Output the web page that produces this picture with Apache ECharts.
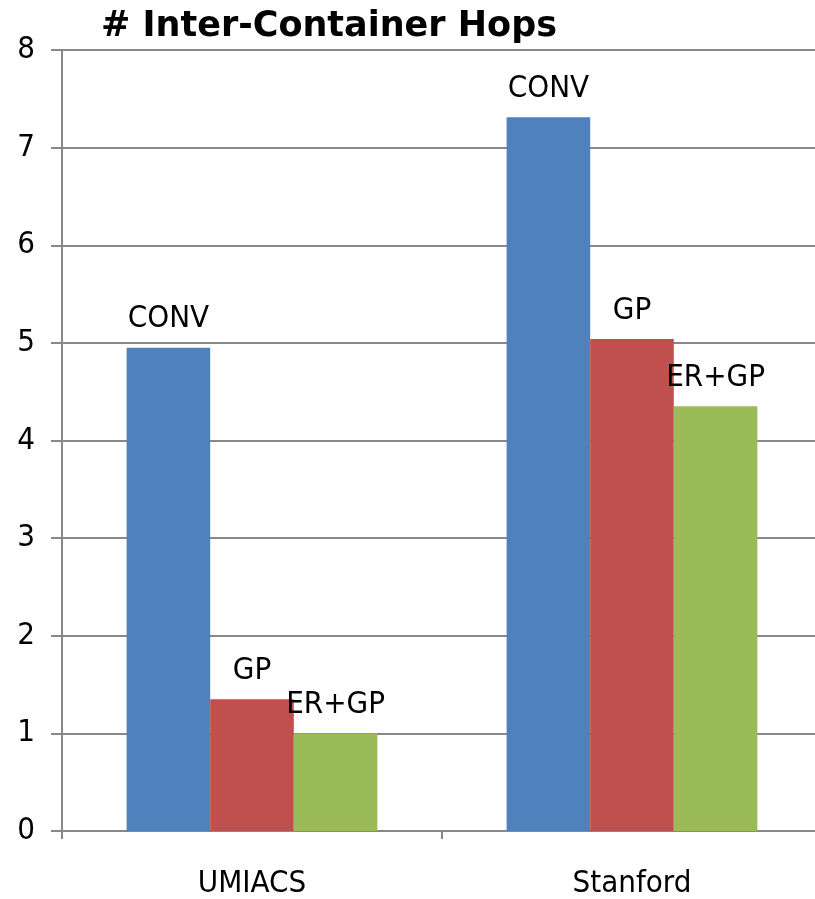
<!DOCTYPE html>
<html>
<head>
    <meta charset="UTF-8">
    <title># Inter-Container Hops</title>
    <style>
        html, body { margin: 0; padding: 0; background: #fff; }
        #main { width: 815px; height: 899px; }
    </style>
</head>
<body>
<div id="main"></div>
<script src="https://cdn.jsdelivr.net/npm/echarts@6/dist/echarts.min.js"></script>
<script type="text/javascript">
    // data
    var categories = ['UMIACS', 'Stanford'];
    var seriesNames = ['CONV', 'GP', 'ER+GP'];
    var convData = [4.95, 7.31];
    var gpData = [1.35, 5.04];
    var ergpData = [1.0, 4.35];
    var seriesColors = ['#4F81BD', '#C0504D', '#9BBB59'];

    var labelFont = '"DejaVu Sans Condensed", "DejaVu Sans", sans-serif';
    var myChart = echarts.init(document.getElementById('main'));

    function makeSeries(name, data, color) {
        return {
            name: name,
            type: 'bar',
            data: data,
            barGap: '0%',
            barCategoryGap: '34%',
            itemStyle: { color: color },
            label: {
                show: true,
                position: 'top',
                distance: 13,
                formatter: '{a}',
                color: '#000',
                fontFamily: labelFont,
                fontSize: 31
            }
        };
    }

    var option = {
        animation: false,
        title: {
            text: '# Inter-Container Hops',
            left: 96,
            top: 4,
            textStyle: {
                fontFamily: '"DejaVu Sans", sans-serif',
                fontWeight: 'bold',
                fontSize: 35,
                color: '#000'
            }
        },
        grid: {
            left: 62,
            width: 760,   // plot runs a little past the right edge
            top: 50,
            bottom: 68,
            containLabel: false,
            outerBoundsMode: 'none'
        },
        xAxis: {
            type: 'category',
            data: categories,
            axisLine: { lineStyle: { color: '#888888', width: 2 } },
            axisTick: { show: true, length: 8, lineStyle: { color: '#888888', width: 2 } },
            axisLabel: {
                margin: 37,
                color: '#000',
                fontFamily: labelFont,
                fontSize: 31
            }
        },
        yAxis: {
            type: 'value',
            min: 0,
            max: 8,
            interval: 1,
            axisLine: { show: true, lineStyle: { color: '#888888', width: 2 } },
            axisTick: { show: true, length: 11, lineStyle: { color: '#888888', width: 2 } },
            axisLabel: {
                margin: 27,
                color: '#000',
                fontFamily: labelFont,
                fontSize: 31
            },
            splitLine: { lineStyle: { color: '#888888', width: 2 } }
        },
        series: [
            makeSeries(seriesNames[0], convData, seriesColors[0]),
            makeSeries(seriesNames[1], gpData, seriesColors[1]),
            makeSeries(seriesNames[2], ergpData, seriesColors[2])
        ]
    };
    myChart.setOption(option);
</script>
</body>
</html>
